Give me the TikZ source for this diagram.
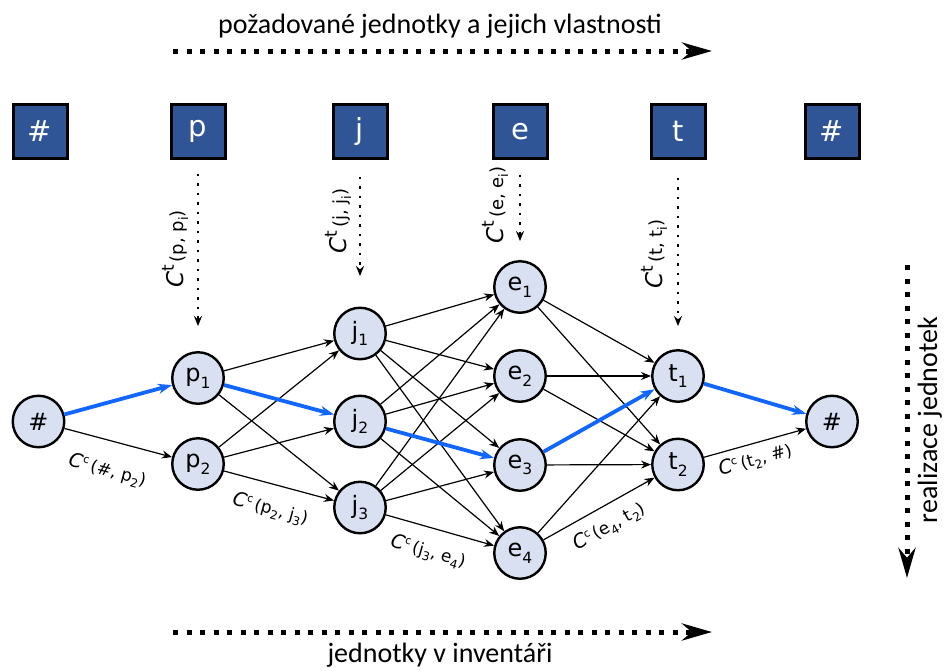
\documentclass[tikz,border=0pt]{standalone}
\usepackage{fontspec}
\setmainfont{Carlito}
\newfontfamily\dvs{DejaVu Sans}
\usetikzlibrary{arrows.meta}
\definecolor{sqfill}{RGB}{47,85,151}
\definecolor{nodefill}{RGB}{217,224,241}
\definecolor{pathblue}{RGB}{17,102,255}
\newcommand\lsub[1]{\raisebox{-0.28em}{\fontsize{15.5}{15.5}\selectfont #1}}
\newcommand\esub[1]{\raisebox{-0.25em}{\fontsize{12}{12}\selectfont #1}}
\newcommand\csup[1]{\raisebox{0.4em}{\fontsize{11}{11}\selectfont #1}}
\newcommand\cclab[1]{{\fontsize{19.5}{19.5}\selectfont\itshape C}\csup{c}\,(#1)}
\newcommand\ctlab[1]{{\fontsize{23}{23}\selectfont\itshape C}\raisebox{0.55em}{\fontsize{17}{17}\selectfont t}\,(#1, #1\raisebox{-0.25em}{\fontsize{13}{13}\selectfont i})}
\begin{document}
\begin{tikzpicture}[x=1pt,y=-1pt,
  circ/.style={circle, draw=black, line width=2.4pt, fill=nodefill, minimum size=51.5pt, inner sep=0pt, font=\dvs\fontsize{24}{24}\selectfont},
  sq/.style={rectangle, draw=black, line width=3pt, fill=sqfill, minimum size=54pt, inner sep=0pt, text=white, font=\dvs\fontsize{29}{29}\selectfont},
  edge/.style={-{Stealth[length=10pt,width=8pt]}, line width=1.2pt},
  best/.style={-{Stealth[length=14pt,width=10pt]}, line width=3.8pt, draw=pathblue},
  bigarrow/.style={line width=5pt, dash pattern=on 5pt off 8.5pt, -{Stealth[length=30pt,width=17pt]}},
  ctarrow/.style={line width=2.5pt, dash pattern=on 2.5pt off 7pt, -{Stealth[length=10pt,width=8pt]}},
  clabel/.style={sloped, font=\dvs\fontsize{17}{17}\selectfont, inner sep=1pt},
  ctlabel/.style={rotate=90, font=\dvs\fontsize{18}{18}\selectfont, inner sep=0pt},
  bigtext/.style={font=\fontsize{28}{28}\selectfont, inner sep=0pt, anchor=base}
]
\useasboundingbox (0,0) rectangle (946,670);

% header and footer
\node[bigtext] (toptext) at (440,33) {požadované jednotky a jejich vlastnosti};
\coordinate (ta1) at (173,51);
\coordinate (ta2) at (712,51);
\draw[bigarrow] (ta1) -- (ta2);
\coordinate (ba1) at (173,632);
\coordinate (ba2) at (712,632);
\draw[bigarrow] (ba1) -- (ba2);
\node[bigtext] (bottext) at (440,662) {jednotky v inventáři};
\coordinate (ra1) at (907,265);
\coordinate (ra2) at (907,578);
\draw[bigarrow] (ra1) -- (ra2);
\node[bigtext, rotate=90] (righttext) at (937,420) {realizace jednotek};

% squares
\node[sq] (sqL) at (40,131.5) {\#};
\node[sq] (sqp) at (198,131.5) {p};
\node[sq] (sqj) at (360,131.5) {j};
\node[sq] (sqe) at (520,131.5) {e};
\node[sq] (sqt) at (678,131.5) {t};
\node[sq] (sqR) at (832,131.5) {\#};

% circles
\node[circ] (L) at (38.5,421.5) {\#};
\node[circ] (p1) at (198,378) {p\lsub{1}};
\node[circ] (p2) at (198,464) {p\lsub{2}};
\node[circ] (j1) at (360,333.5) {j\lsub{1}};
\node[circ] (j2) at (360,421.5) {j\lsub{2}};
\node[circ] (j3) at (360,507.5) {j\lsub{3}};
\node[circ] (e1) at (520,287) {e\lsub{1}};
\node[circ] (e2) at (520,376) {e\lsub{2}};
\node[circ] (e3) at (520,465) {e\lsub{3}};
\node[circ] (e4) at (520,553) {e\lsub{4}};
\node[circ] (t1) at (678,376) {t\lsub{1}};
\node[circ] (t2) at (678,464.5) {t\lsub{2}};
\node[circ] (R) at (832,421.5) {\#};

% C^t arrows and labels
\draw[ctarrow, shorten <=13.5pt, shorten >=25pt] (sqp) -- (p1);
\draw[ctarrow, shorten <=16.5pt, shorten >=30.5pt] (sqj) -- (j1);
\draw[ctarrow, shorten <=14.5pt, shorten >=19pt] (sqe) -- (e1);
\draw[ctarrow, shorten <=17.5pt, shorten >=23pt] (sqt) -- (t1);
\node[ctlabel] (ctp) at (175,249) {\ctlab{p}};
\node[ctlabel] (ctj) at (338,221) {\ctlab{j}};
\node[ctlabel] (cte) at (495,205) {\ctlab{e}};
\node[ctlabel] (ctt) at (654,254) {\ctlab{t}};

% black edges
\draw[edge] (L) -- node[clabel, pos=0.47, below=19pt] (c1) {\cclab{\#, p\esub{2}}} (p2);
\draw[edge] (p1) -- (j1);
\draw[edge] (p1) -- (j3);
\draw[edge] (p2) -- (j1);
\draw[edge] (p2) -- (j2);
\draw[edge] (p2) -- node[clabel, pos=0.48, below=14pt] (c2) {\cclab{p\esub{2}, j\esub{3}}} (j3);
\foreach \e in {e1,e2,e3,e4} { \draw[edge] (j1) -- (\e); }
\draw[edge] (j2) -- (e1);
\draw[edge] (j2) -- (e2);
\draw[edge] (j2) -- (e4);
\draw[edge] (j3) -- (e1);
\draw[edge] (j3) -- (e2);
\draw[edge] (j3) -- (e3);
\draw[edge] (j3) -- node[clabel, pos=0.45, below=13pt] (c3) {\cclab{j\esub{3}, e\esub{4}}} (e4);
\draw[edge] (e1) -- (t1);
\draw[edge] (e1) -- (t2);
\draw[edge] (e2) -- (t1);
\draw[edge] (e2) -- (t2);
\draw[edge] (e3) -- (t2);
\draw[edge] (e4) -- (t1);
\draw[edge] (e4) -- node[clabel, pos=0.5, below=10pt] (c4) {\cclab{e\esub{4}, t\esub{2}}} (t2);
\draw[edge] (t2) -- node[clabel, pos=0.46, below=6pt] (c5) {\cclab{t\esub{2}, \#}} (R);

% best path
\draw[best] (L) -- (p1);
\draw[best] (p1) -- (j2);
\draw[best] (j2) -- (e3);
\draw[best] (e3) -- (t1);
\draw[best] (t1) -- (R);
\end{tikzpicture}
\end{document}
